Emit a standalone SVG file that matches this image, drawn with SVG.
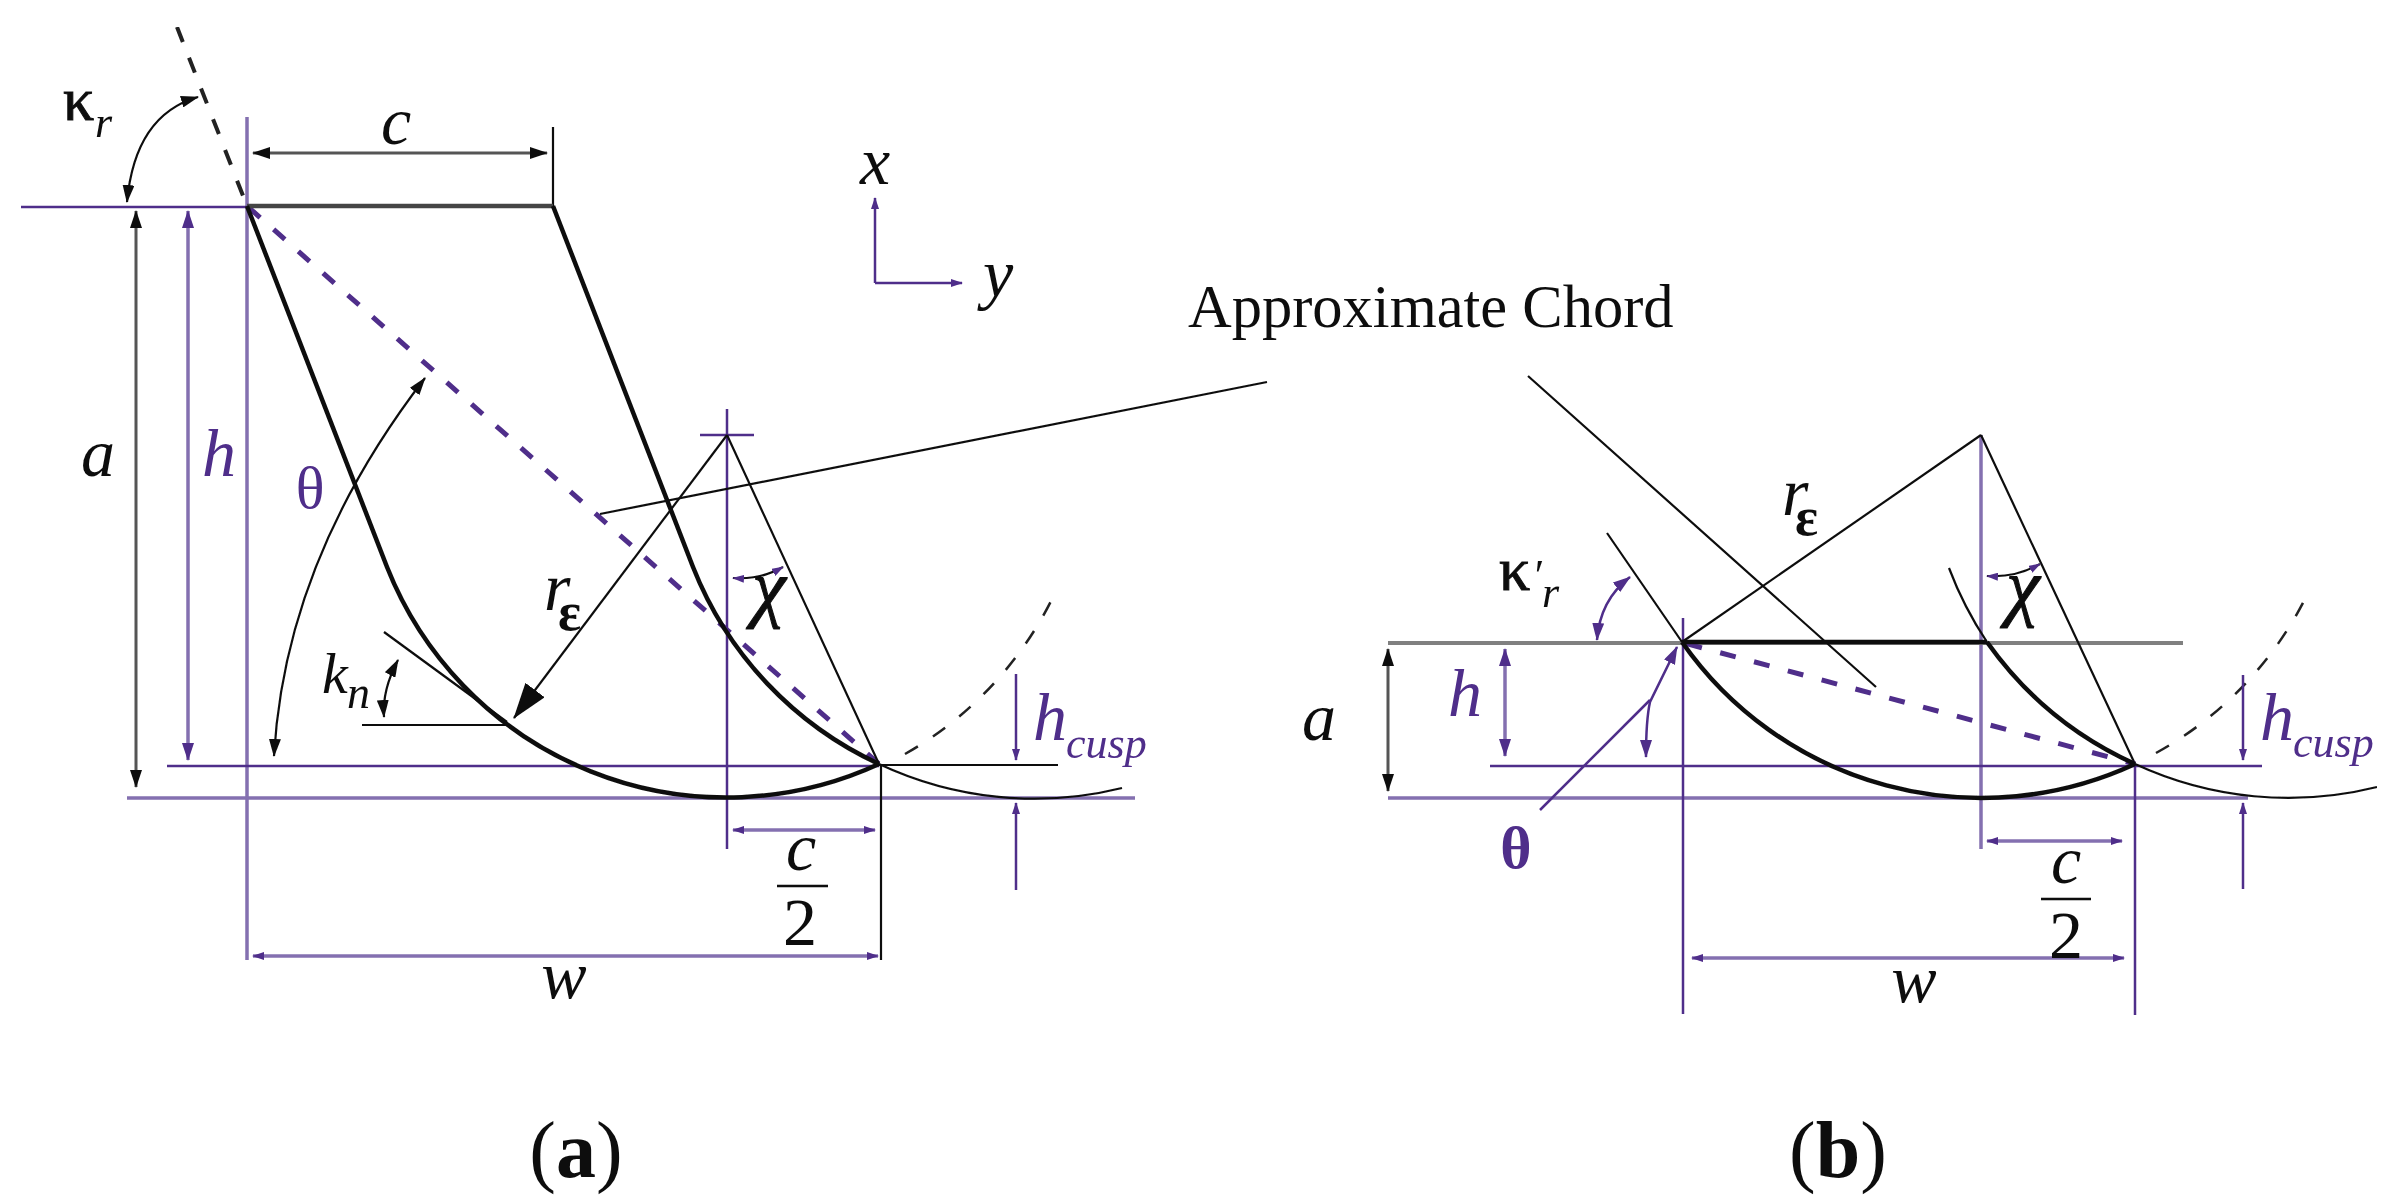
<svg xmlns="http://www.w3.org/2000/svg" width="2407" height="1204" viewBox="0 0 2407 1204">
<style>
.p{stroke:#4f2d8a;fill:none;stroke-width:2.5}
.pl{stroke:#8470b0;fill:none;stroke-width:3.5}
.k{stroke:#111;fill:none;stroke-width:2.2}
.gr{stroke:#555;fill:none;stroke-width:3}
.t{stroke:#111;fill:none;stroke-width:4.5}
.pd{stroke:#4f2d8a;fill:none;stroke-width:5;stroke-dasharray:15 18;stroke-dashoffset:-2.5}
.kd{stroke:#222;fill:none;stroke-width:2.5;stroke-dasharray:15 18}
.a1{marker-start:url(#ak);marker-end:url(#ak)}
.a2{marker-start:url(#ap);marker-end:url(#ap)}
.a3{marker-start:url(#as);marker-end:url(#as)}
.e2{marker-end:url(#as)}
text{font-family:"Liberation Serif","Times New Roman",serif;fill:#111;font-size:68px}
.i{font-style:italic}
.v{fill:#4f2d8a}
.s{font-size:44px}
.m{text-anchor:middle}
.b{font-weight:bold}
.h{stroke:#111;stroke-width:1}
</style>
<defs>
<marker id="ak" viewBox="0 0 18 12" refX="17" refY="6" markerWidth="18" markerHeight="12" markerUnits="userSpaceOnUse" orient="auto-start-reverse"><path d="M0,0L18,6L0,12z" fill="#111"/></marker>
<marker id="ap" viewBox="0 0 18 12" refX="17" refY="6" markerWidth="18" markerHeight="12" markerUnits="userSpaceOnUse" orient="auto-start-reverse"><path d="M0,0L18,6L0,12z" fill="#4f2d8a"/></marker>
<marker id="as" viewBox="0 0 12 8" refX="11" refY="4" markerWidth="12" markerHeight="8" markerUnits="userSpaceOnUse" orient="auto-start-reverse"><path d="M0,0L12,4L0,8z" fill="#4f2d8a"/></marker>
<marker id="ab" viewBox="0 0 36 24" refX="35" refY="12" markerWidth="36" markerHeight="24" markerUnits="userSpaceOnUse" orient="auto"><path d="M0,0L36,12L0,24z" fill="#111"/></marker>
<filter id="b" x="0" y="0" width="100%" height="100%"><feGaussianBlur stdDeviation="0.6"/></filter>
</defs>
<rect width="2407" height="1204" fill="#fff"/>
<g filter="url(#b)">
<g id="connectors">
<!-- panel a -->
<path class="pl" d="M247,117V960M127,798H1135M1388,798H2248M1981,435V849"/>
<path class="p" d="M21,207H247M167,766H879M727,409V849M700,435H754"/>
<path class="k" d="M879,765H1058M881,764V960M553,127V206"/>
<path class="kd" style="stroke-width:4;stroke-dasharray:16 17" d="M177,27L247,206"/>
<path class="pd" d="M247,206L879,764"/>
<path class="t" style="stroke:#444" d="M247,206H553"/>
<path class="t" d="M553,206L693,567A365,365 0 0 0 879,764"/>
<path class="t" d="M247,206L387,567A365,365 0 0 0 879,764"/>
<path class="k" d="M879,764A365,365 0 0 0 1122,788"/>
<path class="kd" d="M905,754A365,365 0 0 0 1054,595"/>
<path class="k" d="M727,435L879,764M600,514L1267,382M384,632L507,722M362,725H507"/>
<path class="k" d="M727,435L514,718" style="marker-end:url(#ab)"/>
<path class="gr a1" d="M253,153H547"/>
<path class="gr a1" d="M136,211V787"/>
<path class="pl a2" d="M188,211V760"/>
<path class="p e2" d="M875,283V198"/>
<path class="p e2" d="M875,283H962"/>
<path class="k a1" d="M198,97Q135,115 127,202"/>
<path class="k a1" d="M425,378Q285,560 274,756"/>
<path class="k a1" d="M398,660Q382,690 384,717"/>
<path class="k" style="marker-start:url(#as);marker-end:url(#as)" d="M733,578Q760,580 783,567"/>
<path class="p e2" d="M1016,674V760"/>
<path class="p e2" d="M1016,890V803"/>
<path class="pl a3" d="M733,830H875"/>
<path class="pl a3" d="M253,956H878"/>
<!-- panel b -->
<path d="M1388,643H2183" stroke="#808080" stroke-width="4" fill="none"/>
<path class="p" d="M1490,766H2262M1683,618V1014M2135,764V1015"/>
<path class="k" d="M1528,376L1876,687M1981,435L1682,642M1981,435L2135,764M1607,533L1682,642"/>
<path class="pd" style="stroke-dasharray:16 19" d="M1684,643L2135,764"/>
<path class="t" d="M1682,642H1987M1682,642A365,365 0 0 0 2135,764M1987,642A365,365 0 0 0 2135,764"/>
<path class="k" d="M1949,568A365,365 0 0 0 1987,642M2135,764A365,365 0 0 0 2377,787"/>
<path class="kd" d="M2156,753A365,365 0 0 0 2306,597"/>
<path class="gr a1" d="M1388,649V791"/>
<path class="pl a2" d="M1505,649V756"/>
<path class="p a2" d="M1630,577Q1600,600 1597,640"/>
<path class="p a2" d="M1677,647L1650,702Q1646,720 1646,757"/>
<path class="p" d="M1650,700L1540,810"/>
<path class="k" style="marker-start:url(#as);marker-end:url(#as)" d="M1987,576Q2015,578 2040,564"/>
<path class="p e2" d="M2243,675V760"/>
<path class="p e2" d="M2243,889V803"/>
<path class="pl a3" d="M1987,841H2122"/>
<path class="pl a3" d="M1692,958H2124"/>
<path class="k" style="stroke-width:2.5" d="M777,886H828M2041,899H2091"/>
</g>
<g id="labels-a">
<text class="h" x="63" y="120" style="font-size:62px">κ</text><text class="i s" x="95" y="137">r</text>
<text class="i m" x="396" y="144">c</text>
<text class="i m" x="875" y="184">x</text>
<text class="i m" x="998" y="297">y</text>
<text class="i m" x="98" y="476">a</text>
<text class="i m v" x="219" y="476">h</text>
<text class="m v" x="310" y="508" style="font-size:60px">θ</text>
<text class="i" x="544" y="610">r</text><text class="b" x="558" y="630" style="font-size:54px">ε</text>
<text class="i" x="322" y="693" style="font-size:58px">k</text><text class="i" x="347" y="708" style="font-size:46px">n</text>
<text class="i m h" x="769" y="613" style="font-size:76px">χ</text>
<text class="i v" x="1033" y="740">h</text><text class="i v s" x="1066" y="758">cusp</text>
<text class="i m" x="801" y="870">c</text>
<text class="m" x="800" y="945">2</text>
<text class="i m" x="564" y="998">w</text>
<text class="m" x="576" y="1177" style="font-size:80px">(<tspan class="b">a</tspan>)</text>
</g>
<g id="labels-b">
<text x="1188" y="327" style="font-size:60.5px">Approximate Chord</text>
<text class="h" x="1499" y="590" style="font-size:62px">κ</text><text class="i s" x="1532" y="590">′</text><text class="i s" x="1542" y="607">r</text>
<text class="i" x="1782" y="515">r</text><text class="b" x="1795" y="535" style="font-size:54px">ε</text>
<text class="i m h" x="2023" y="612" style="font-size:76px">χ</text>
<text class="i m" x="1319" y="740">a</text>
<text class="i m v" x="1465" y="716">h</text>
<text class="m v b" x="1516" y="868" style="font-size:60px">θ</text>
<text class="i v" x="2260" y="740">h</text><text class="i v s" x="2293" y="757">cusp</text>
<text class="i m" x="2066" y="883">c</text>
<text class="m" x="2066" y="958">2</text>
<text class="i m" x="1914" y="1002">w</text>
<text class="m" x="1838" y="1177" style="font-size:80px">(<tspan class="b">b</tspan>)</text>
</g>
</g>
</svg>
